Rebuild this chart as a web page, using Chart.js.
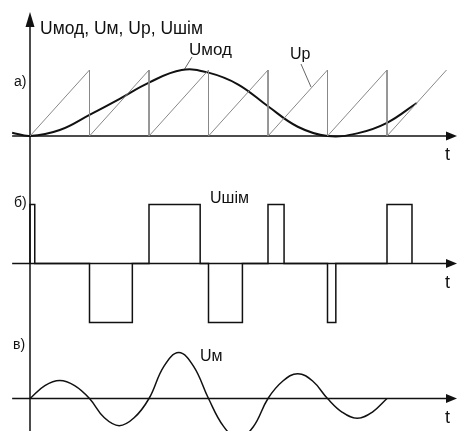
<!DOCTYPE html>
<html>
<head>
<meta charset="utf-8">
<script src="https://cdn.jsdelivr.net/npm/chart.js@4.4.1/dist/chart.umd.min.js"></script>
<style>
  html, body { margin: 0; padding: 0; background: #fff; }
  #wrap { width: 457px; height: 431px; position: relative; }
</style>
</head>
<body>
<div id="wrap"><canvas id="chart" width="457" height="431"></canvas></div>
<script>
// time is measured in carrier periods (one sawtooth tooth = 1)
const sawTimes = [0, 1, 2, 3, 4, 5, 6, 7];
const sawPeak = 1;

// modulating signal Uмод (fraction of sawtooth height)
const modTimes = [-0.3, 0, 0.5, 1, 1.5, 2, 2.55, 3, 3.5, 4, 4.5, 5, 5.5, 6, 6.5];
const modValues = [0.05, 0, 0.09, 0.32, 0.56, 0.81, 1.0, 0.96, 0.78, 0.45, 0.14, 0, 0.04, 0.20, 0.50];

// PWM pulses Uшім
const pwmStarts = [0, 1.0, 2.0, 3.0, 4.0, 5.0, 6.0];
const pwmEnds = [0.08, 1.72, 2.86, 3.57, 4.27, 5.14, 6.42];
const pwmLevels = [1, -1, 1, -1, 1, -1, 1];

// output voltage Uм after filtering
const outTimes = [0, 0.25, 0.5, 0.75, 1, 1.25, 1.5, 1.75, 2, 2.25, 2.5, 2.75, 3,
                  3.25, 3.5, 3.75, 4, 4.25, 4.5, 4.75, 5, 5.25, 5.5, 5.75, 6];
const outValues = [0, 0.28, 0.39, 0.28, 0, -0.42, -0.59, -0.42, 0, 0.70, 1.0, 0.70, 0,
                   -0.60, -0.87, -0.62, 0, 0.38, 0.54, 0.38, 0, -0.30, -0.43, -0.30, 0];

const sawData = [{ x: sawTimes[0], y: 0 }];
for (let i = 1; i < sawTimes.length; i++) {
  sawData.push({ x: sawTimes[i], y: sawPeak });
  if (i < sawTimes.length - 1) sawData.push({ x: sawTimes[i], y: 0 });
}
const modData = modTimes.map((t, i) => ({ x: t, y: modValues[i] }));
const pwmData = [];
pwmStarts.forEach((s, i) => {
  pwmData.push({ x: s, y: 0 }, { x: s, y: pwmLevels[i] },
               { x: pwmEnds[i], y: pwmLevels[i] }, { x: pwmEnds[i], y: 0 });
});
const outData = outTimes.map((t, i) => ({ x: t, y: outValues[i] }));

const H = 431;
// each panel uses its own y scale over the full height: [baseline px, px per unit]
function panelScale(base, unit) {
  const max = base / unit;
  return { type: 'linear', display: false, min: max - H / unit, max: max };
}

const labels = [
  { text: 'Uмод, Uм, Uр, Uшім', x: 40, y: 29, size: 17.5 },
  { text: 'Uмод', x: 189, y: 50, size: 17 },
  { text: 'Uр', x: 290, y: 55, size: 16 },
  { text: 'Uшім', x: 210, y: 199, size: 16 },
  { text: 'Uм', x: 200, y: 357, size: 16 },
  { text: 'а)', x: 14, y: 82, size: 14 },
  { text: 'б)', x: 14, y: 203, size: 14 },
  { text: 'в)', x: 13, y: 345, size: 14 },
  { text: 't', x: 445, y: 155, size: 18 },
  { text: 't', x: 445, y: 283, size: 18 },
  { text: 't', x: 445, y: 418, size: 18 }
];

const diagramPlugin = {
  id: 'diagram',
  beforeDatasetsDraw(chart) {
    const ctx = chart.ctx;
    const xs = chart.scales.x;
    const x0 = xs.getPixelForValue(0);
    ctx.save();
    ctx.strokeStyle = '#111';
    ctx.fillStyle = '#111';
    ctx.lineWidth = 1.5;
    ctx.beginPath();
    ctx.moveTo(x0, 24);
    ctx.lineTo(x0, chart.height);
    ctx.stroke();
    ctx.beginPath();
    ctx.moveTo(x0, 12);
    ctx.lineTo(x0 - 4.5, 27);
    ctx.lineTo(x0 + 4.5, 27);
    ctx.closePath();
    ctx.fill();
    ['ya', 'yb', 'yc'].forEach(id => {
      const y = chart.scales[id].getPixelForValue(0);
      ctx.beginPath();
      ctx.moveTo(xs.getPixelForValue(-0.3), y);
      ctx.lineTo(chart.width - 8, y);
      ctx.stroke();
      ctx.beginPath();
      ctx.moveTo(chart.width, y);
      ctx.lineTo(chart.width - 11, y - 4.5);
      ctx.lineTo(chart.width - 11, y + 4.5);
      ctx.closePath();
      ctx.fill();
    });
    // leader lines to the curve labels
    ctx.strokeStyle = '#666';
    ctx.lineWidth = 1;
    ctx.beginPath();
    ctx.moveTo(192, 57);
    ctx.lineTo(184, 70);
    ctx.moveTo(301, 64);
    ctx.lineTo(311, 87);
    ctx.stroke();
    ctx.restore();
  },
  afterDraw(chart) {
    const ctx = chart.ctx;
    ctx.save();
    ctx.fillStyle = '#111';
    ctx.textBaseline = 'middle';
    labels.forEach(l => {
      ctx.font = l.size + 'px "Liberation Sans", Arial, sans-serif';
      ctx.fillText(l.text, l.x, l.y);
    });
    ctx.restore();
  }
};

new Chart(document.getElementById('chart'), {
  type: 'line',
  data: {
    datasets: [
      { label: 'Uр', data: sawData, yAxisID: 'ya', borderColor: '#888', borderWidth: 1, tension: 0 },
      { label: 'Uмод', data: modData, yAxisID: 'ya', borderColor: '#111', borderWidth: 2, tension: 0.4 },
      { label: 'Uшім', data: pwmData, yAxisID: 'yb', borderColor: '#111', borderWidth: 1.5, tension: 0 },
      { label: 'Uм', data: outData, yAxisID: 'yc', borderColor: '#111', borderWidth: 1.5, tension: 0.4 }
    ]
  },
  options: {
    responsive: false,
    animation: false,
    parsing: { xAxisKey: 'x', yAxisKey: 'y' },
    layout: { padding: 0 },
    elements: { point: { radius: 0 } },
    plugins: { legend: { display: false }, tooltip: { enabled: false } },
    scales: {
      x: { type: 'linear', display: false, min: -30 / 59.5, max: 427 / 59.5 },
      ya: panelScale(136, 66),
      yb: panelScale(263.5, 59),
      yc: panelScale(398.5, 46)
    }
  },
  plugins: [diagramPlugin]
});
</script>
</body>
</html>
